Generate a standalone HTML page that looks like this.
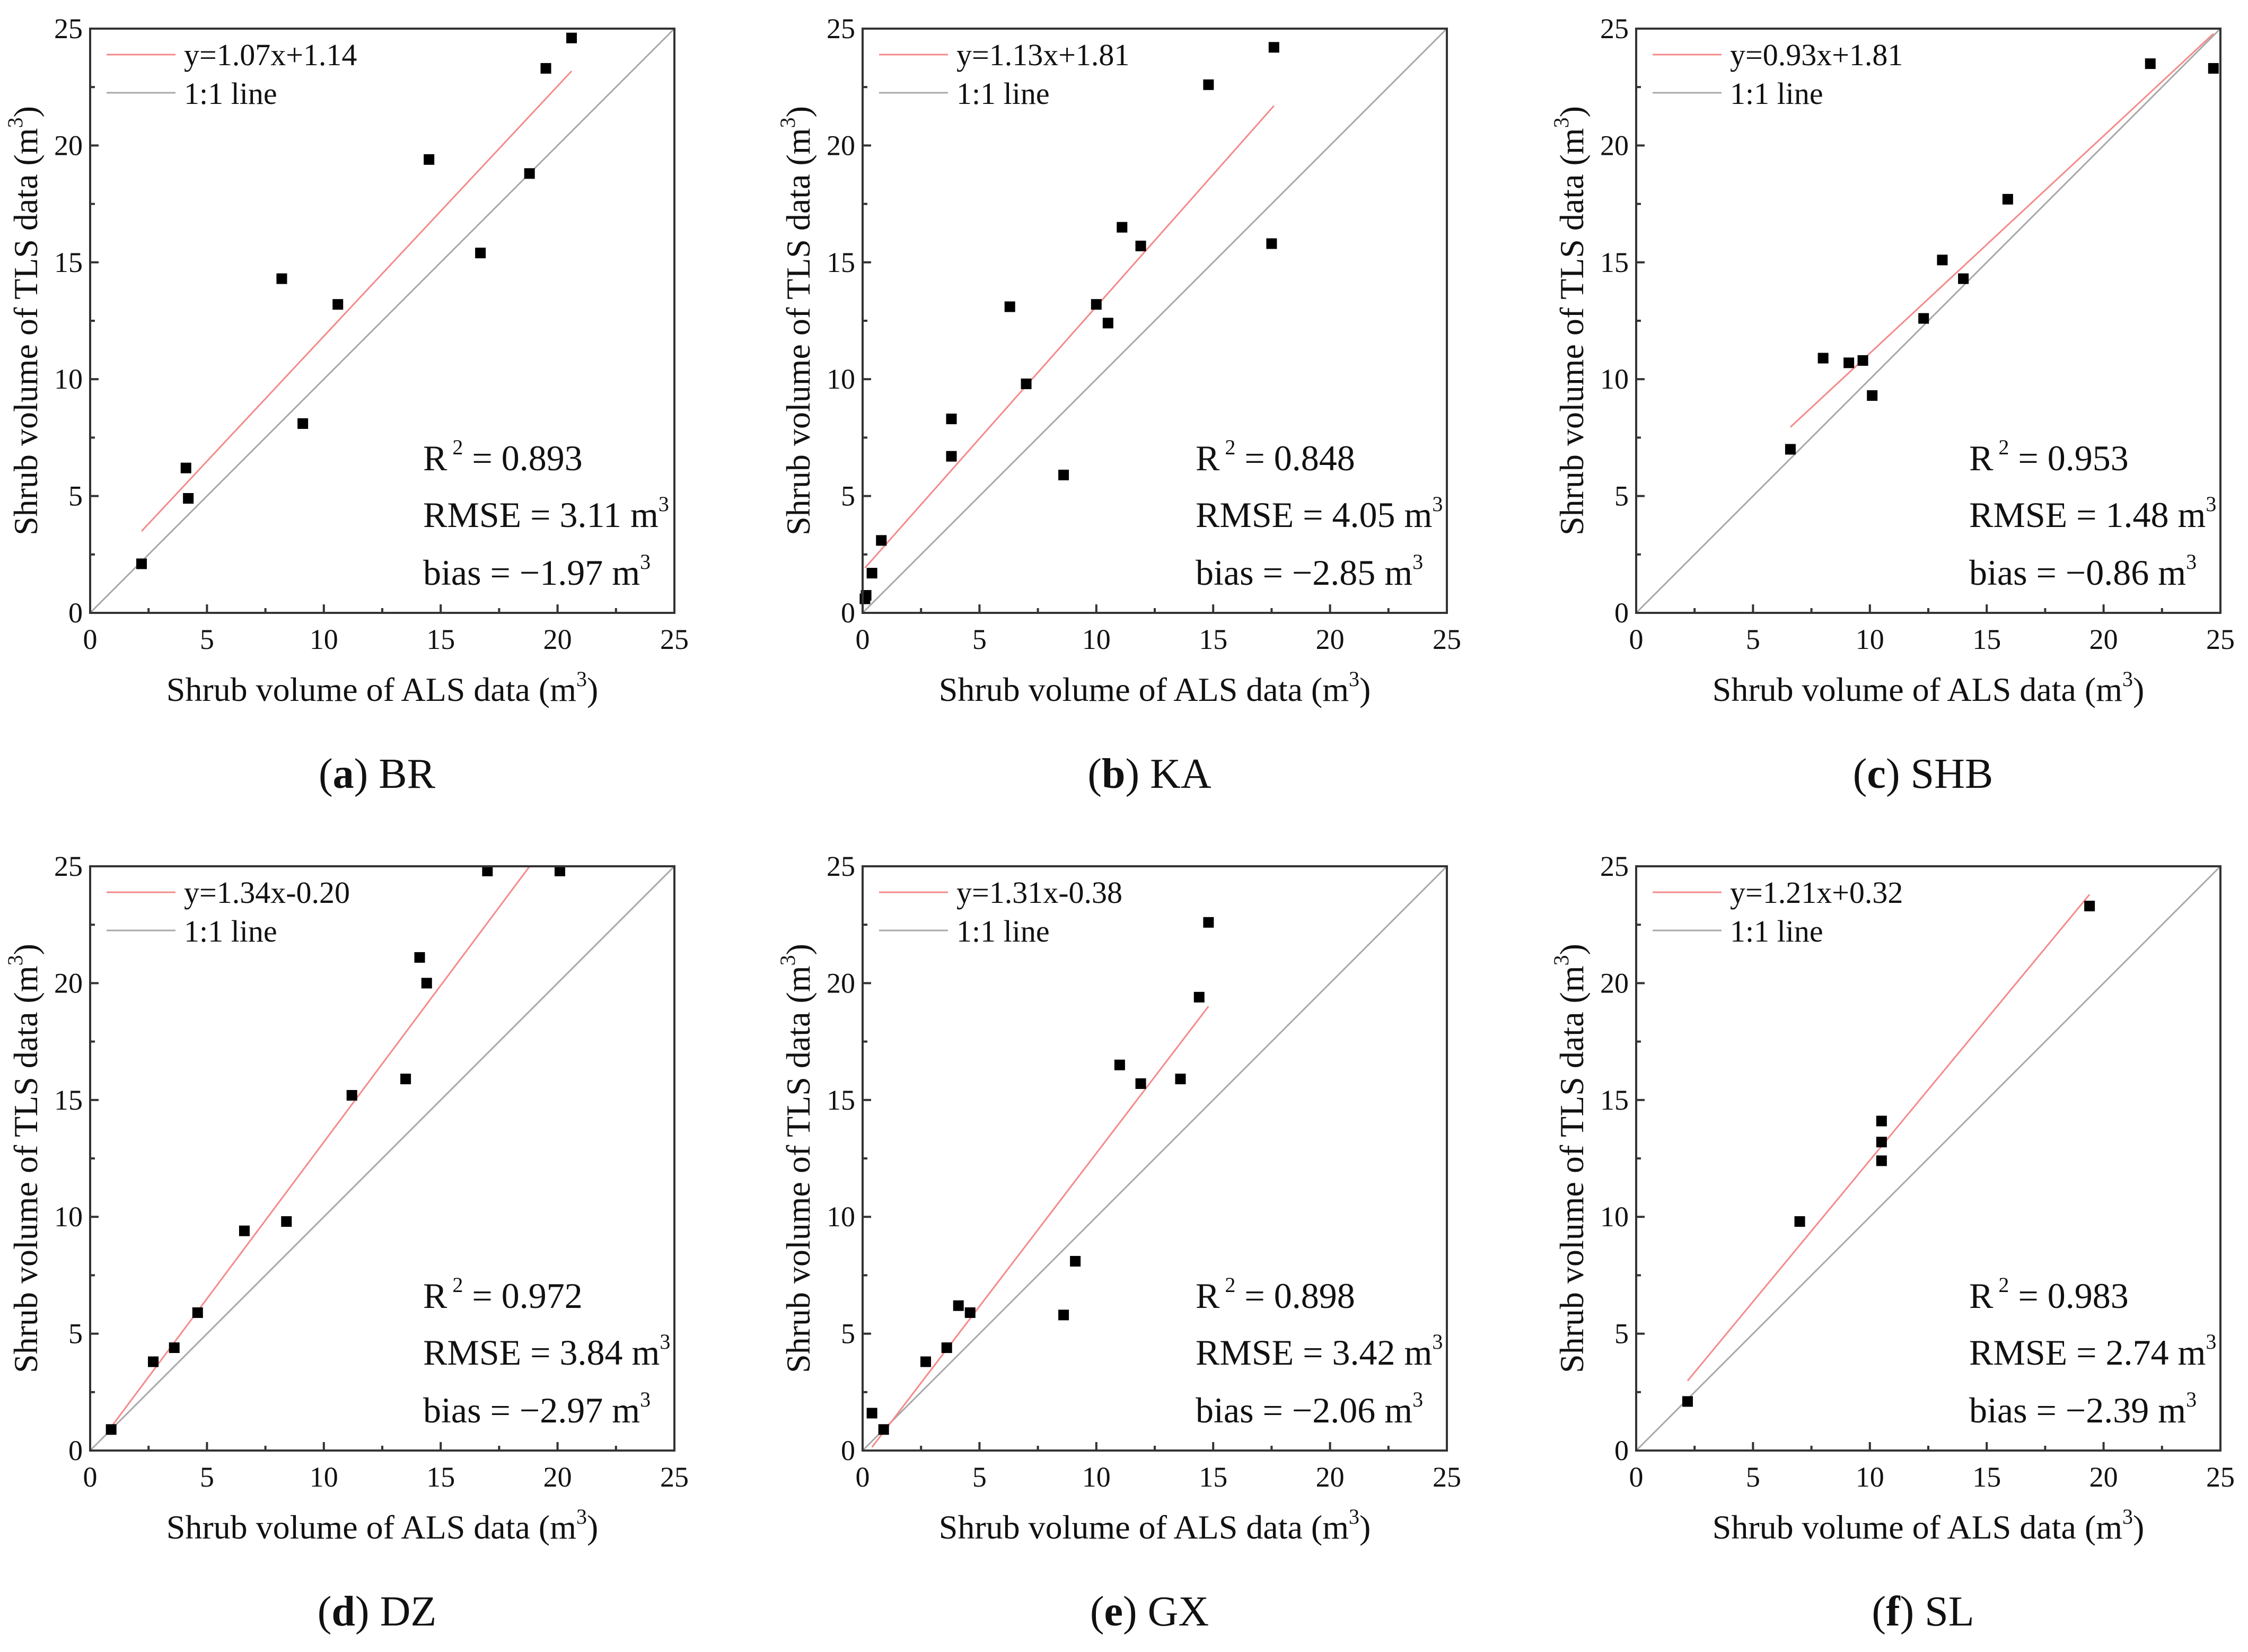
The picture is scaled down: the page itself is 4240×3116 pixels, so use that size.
<!DOCTYPE html>
<html><head><meta charset="utf-8">
<style>
html,body{margin:0;padding:0;background:#fff;}
svg, svg text, svg tspan{font-family:"Liberation Serif","DejaVu Serif","Noto Serif CJK SC",serif;}
</style></head>
<body>
<svg id="fig" width="4240" height="3111" viewBox="0 0 4240 3111" xmlns="http://www.w3.org/2000/svg">
<rect width="4240" height="3111" fill="#fff"/>
</svg>
<script>
const panelNames = ["BR","KA","SHB","DZ","GX","SL"];
const panelLetters = ["a","b","c","d","e","f"];
const fitSlopes = [1.07,1.13,0.93,1.34,1.31,1.21];
const fitIntercepts = [1.14,1.81,1.81,-0.20,-0.38,0.32];
const fitLabels = ["y=1.07x+1.14","y=1.13x+1.81","y=0.93x+1.81","y=1.34x-0.20","y=1.31x-0.38","y=1.21x+0.32"];
const r2Values = ["0.893","0.848","0.953","0.972","0.898","0.983"];
const rmseValues = ["3.11","4.05","1.48","3.84","3.42","2.74"];
const biasValues = ["\u22121.97","\u22122.85","\u22120.86","\u22122.97","\u22122.06","\u22122.39"];
const tickLabels = ["0","5","10","15","20","25"];
const xBR = [2.2,4.1,4.2,8.2,9.1,10.6,14.5,16.7,18.8,19.5,20.6];
const yBR = [2.1,6.2,4.9,14.3,8.1,13.2,19.4,15.4,18.8,23.3,24.6];
const xKA = [0.1,0.15,0.4,0.8,3.8,3.8,6.3,7.0,8.6,10.0,10.5,11.1,11.9,14.8,17.5,17.6];
const yKA = [0.6,0.75,1.7,3.1,8.3,6.7,13.1,9.8,5.9,13.2,12.4,16.5,15.7,22.6,15.8,24.2];
const xSHB = [6.6,8.0,9.1,9.7,10.1,12.3,13.1,14.0,15.9,22.0,24.7];
const ySHB = [7.0,10.9,10.7,10.8,9.3,12.6,15.1,14.3,17.7,23.5,23.3];
const xDZ = [0.9,2.7,3.6,4.6,6.6,8.4,11.2,13.5,14.1,14.4,17.0,20.1];
const yDZ = [0.9,3.8,4.4,5.9,9.4,9.8,15.2,15.9,21.1,20.0,24.8,24.8];
const xGX = [0.4,0.9,2.7,3.6,4.1,4.6,8.6,9.1,11.0,11.9,13.6,14.4,14.8];
const yGX = [1.6,0.9,3.8,4.4,6.2,5.9,5.8,8.1,16.5,15.7,15.9,19.4,22.6];
const xSL = [2.2,7.0,10.5,10.5,10.5,19.4];
const ySL = [2.1,9.8,12.4,13.2,14.1,23.3];
const seriesX = [xBR,xKA,xSHB,xDZ,xGX,xSL];
const seriesY = [yBR,yKA,ySHB,yDZ,yGX,ySL];

const NS = "http://www.w3.org/2000/svg";
const svg = document.getElementById('fig');
const colLeft = [170,1627,3086];
const rowTop = [54,1634];
const SIZE = 1102, MAXV = 25;
function mk(tag, attrs, parent, txt){
  const e = document.createElementNS(NS, tag);
  for (const k in attrs) e.setAttribute(k, attrs[k]);
  if (txt !== undefined) e.textContent = txt;
  parent.appendChild(e);
  return e;
}
for (let p = 0; p < 6; p++) {
  const L = colLeft[p % 3], T = rowTop[Math.floor(p / 3)];
  const B = T + SIZE;
  const sx = v => L + v / MAXV * SIZE;
  const sy = v => B - v / MAXV * SIZE;
  const g = mk('g', {}, svg);
  
  
  const cp = mk('clipPath', {id: 'clip' + p}, g);
  mk('rect', {x: L, y: T, width: SIZE, height: SIZE}, cp);
  const one = mk('line', {x1: sx(0), y1: sy(0), x2: sx(25), y2: sy(25), stroke: '#a8a8a8', 'stroke-width': 3}, g);
  
  
  const xs = seriesX[p];
  const xmin = Math.min(...xs), xmax = Math.max(...xs);
  const fit = mk('line', {x1: sx(xmin), y1: sy(fitSlopes[p]*xmin + fitIntercepts[p]), x2: sx(xmax), y2: sy(fitSlopes[p]*xmax + fitIntercepts[p]), stroke: '#f48a8a', 'stroke-width': 3, 'clip-path': 'url(#clip' + p + ')'}, g);
  
  
  for (let i = 0; i < xs.length; i++) {
    const pt = mk('rect', {x: sx(xs[i]) - 10, y: sy(seriesY[p][i]) - 10, width: 20, height: 20, fill: '#000'}, g);
    
    
  }
  const fr = mk('rect', {x: L, y: T, width: SIZE, height: SIZE, fill: 'none', stroke: '#333', 'stroke-width': 4}, g);
  
  
  for (let v = 0; v <= 25; v += 2.5) {
    const len = (v % 5 === 0) ? 16 : 9;
    mk('line', {x1: sx(v), y1: B, x2: sx(v), y2: B - len, stroke: '#333', 'stroke-width': 4}, g);
    mk('line', {x1: L, y1: sy(v), x2: L + len, y2: sy(v), stroke: '#333', 'stroke-width': 4}, g);
  }
  tickLabels.forEach((t, i) => {
    const v = i * 5;
    const xt = mk('text', {x: sx(v), y: B + 68, 'font-size': 54, 'text-anchor': 'middle', fill: '#111'}, g, t);
    
    
    const yt = mk('text', {x: L - 14, y: sy(v) + 18, 'font-size': 54, 'text-anchor': 'end', fill: '#111'}, g, t);
    
    
  });
  const xtit = mk('text', {x: L + SIZE/2, y: B + 166, 'font-size': 64, 'text-anchor': 'middle', fill: '#111'}, g);
  
  
  mk('tspan', {}, xtit, 'Shrub volume of ALS data (m');
  mk('tspan', {'font-size': 40, dy: -28}, xtit, '3');
  mk('tspan', {dy: 28}, xtit, ')');
  const cy = T + SIZE/2;
  const ytit = mk('text', {x: L - 100, y: cy, 'font-size': 64, 'text-anchor': 'middle', fill: '#111', transform: 'rotate(-90 ' + (L - 100) + ' ' + cy + ')'}, g);
  
  
  mk('tspan', {}, ytit, 'Shrub volume of TLS data (m');
  mk('tspan', {'font-size': 40, dy: -28}, ytit, '3');
  mk('tspan', {dy: 28}, ytit, ')');
  const lg = mk('g', {}, g);
  
  
  mk('line', {x1: L + 31, y1: T + 49, x2: L + 161, y2: T + 49, stroke: '#f48a8a', 'stroke-width': 3}, lg);
  const l1 = mk('text', {x: L + 177, y: T + 69, 'font-size': 58, fill: '#111'}, lg, fitLabels[p]);
  
  
  mk('line', {x1: L + 31, y1: T + 121, x2: L + 161, y2: T + 121, stroke: '#a8a8a8', 'stroke-width': 3}, lg);
  const l2 = mk('text', {x: L + 177, y: T + 142, 'font-size': 58, fill: '#111'}, lg, '1:1 line');
  
  
  const st = mk('g', {fill: '#111'}, g);
  
  
  const sxp = L + 628;
  const t1 = mk('text', {x: sxp, y: T + 833, 'font-size': 68}, st);
  mk('tspan', {}, t1, 'R');
  mk('tspan', {'font-size': 40, dy: -30, dx: 10}, t1, '2');
  mk('tspan', {dy: 30}, t1, ' = ' + r2Values[p]);
  const t2 = mk('text', {x: sxp, y: T + 940, 'font-size': 68}, st);
  mk('tspan', {}, t2, 'RMSE = ' + rmseValues[p] + ' m');
  mk('tspan', {'font-size': 40, dy: -30}, t2, '3');
  const t3 = mk('text', {x: sxp, y: T + 1049, 'font-size': 68}, st);
  mk('tspan', {}, t3, 'bias = ' + biasValues[p] + ' m');
  mk('tspan', {'font-size': 40, dy: -30}, t3, '3');
  const cap = mk('text', {x: L + SIZE/2 - 10, y: B + 330, 'font-size': 80, 'text-anchor': 'middle', fill: '#111'}, g);
  
  
  mk('tspan', {}, cap, '(');
  mk('tspan', {'font-weight': 'bold'}, cap, panelLetters[p]);
  mk('tspan', {}, cap, ') ' + panelNames[p]);
}
</script>
</body></html>
